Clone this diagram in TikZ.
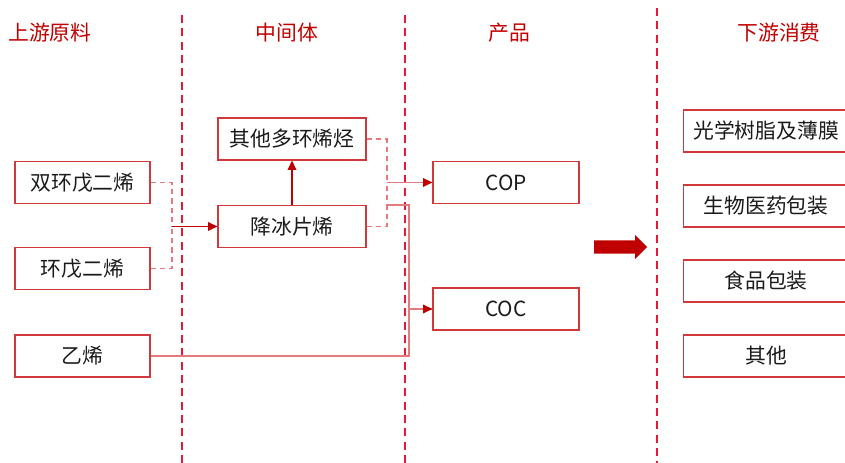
\documentclass[tikz,border=0pt]{standalone}
\usepackage{fontspec}
\setmainfont{Noto Sans CJK SC}
\usetikzlibrary{arrows.meta}
\definecolor{boxred}{HTML}{D0383C}
\definecolor{linered}{HTML}{E27A7E}
\definecolor{darkred}{HTML}{C00000}
\definecolor{sepred}{HTML}{E8183C}
\definecolor{txt}{HTML}{1A1A1A}
\tikzset{
  box/.style={draw=boxred, line width=0.9pt, minimum height=31.5pt, text=txt, font=\fontsize{15.6pt}{18pt}\selectfont, inner sep=0pt},
  hdr/.style={text=darkred, font=\fontsize{15.6pt}{18pt}\selectfont, inner sep=0pt},
  sep/.style={draw=sepred, line width=1.4pt, dash pattern=on 6pt off 4pt},
  dconn/.style={draw=linered, line width=1pt, dash pattern=on 4pt off 3pt},
  sconn/.style={draw=linered, line width=1.1pt},
  tip/.style={-{Triangle[length=7pt,width=6.5pt]}, darkred},
}
\begin{document}
\begin{tikzpicture}[x=0.75pt,y=-0.75pt]
\useasboundingbox (0,0) rectangle (845,463);
\clip (0,0) rectangle (845,463);
% separators
\draw[sep] (182,15) -- (182,463);
\draw[sep] (405,15) -- (405,463);
\draw[sep] (657,8) -- (657,463);
% headers
\node[hdr, anchor=west] (h1) at (8,33) {上游原料};
\node[hdr] (h2) at (287,33) {中间体};
\node[hdr] (h3) at (509,33) {产品};
\node[hdr] (h4) at (779,33) {下游消费};
% left boxes
\node[box, minimum width=101.25pt] (dcpd) at (82.5,182.5) {双环戊二烯};
\node[box, minimum width=101.25pt] (cpd) at (82.5,268.5) {环戊二烯};
\node[box, minimum width=101.25pt] (eth) at (82.5,356) {乙烯};
% middle
\node[box, minimum width=111pt] (poly) at (292,139) {其他多环烯烃};
\node[box, minimum width=111pt] (nb) at (292,226.5) {降冰片烯};
% products
\node[box, minimum width=109.5pt] (cop) at (506,182.5) {COP};
\node[box, minimum width=109.5pt] (coc) at (506,309) {COC};
% downstream
\node[box, minimum width=124pt] (d1) at (766,131) {光学树脂及薄膜};
\node[box, minimum width=124pt] (d2) at (766,206) {生物医药包装};
\node[box, minimum width=124pt] (d3) at (766,281) {食品包装};
\node[box, minimum width=124pt] (d4) at (766,356) {其他};
% connectors
\coordinate (j1) at (172,226.5);
\draw[dconn] (dcpd.east) -| (j1);
\draw[dconn] (cpd.east) -| (j1);
\draw[darkred, line width=1pt, tip] (j1) -- (nb.west);
\draw[darkred, line width=1pt, tip] (nb.north) -- (poly.south);
\coordinate (j2) at (387,182.5);
\draw[dconn] (poly.east) -| (j2);
\draw[dconn] (nb.east) -| (j2);
\draw[sconn] (j2) -- (cop.west);
\draw[tip, line width=1pt] ([xshift=-7pt]cop.west) -- (cop.west);
\coordinate (j3) at (387,205);
\coordinate (j4) at (409,205);
\coordinate (j5) at (409,309);
\draw[sconn] (j3) -- (j4) |- (eth.east);
\draw[sconn] (j5) -- (coc.west);
\draw[tip, line width=1pt] ([xshift=-7pt]coc.west) -- (coc.west);
% big arrow
\fill[darkred] (594,240.5) -- (635,240.5) -- (635,235) -- (647,247) -- (635,259) -- (635,253.5) -- (594,253.5) -- cycle;
\end{tikzpicture}
\end{document}
